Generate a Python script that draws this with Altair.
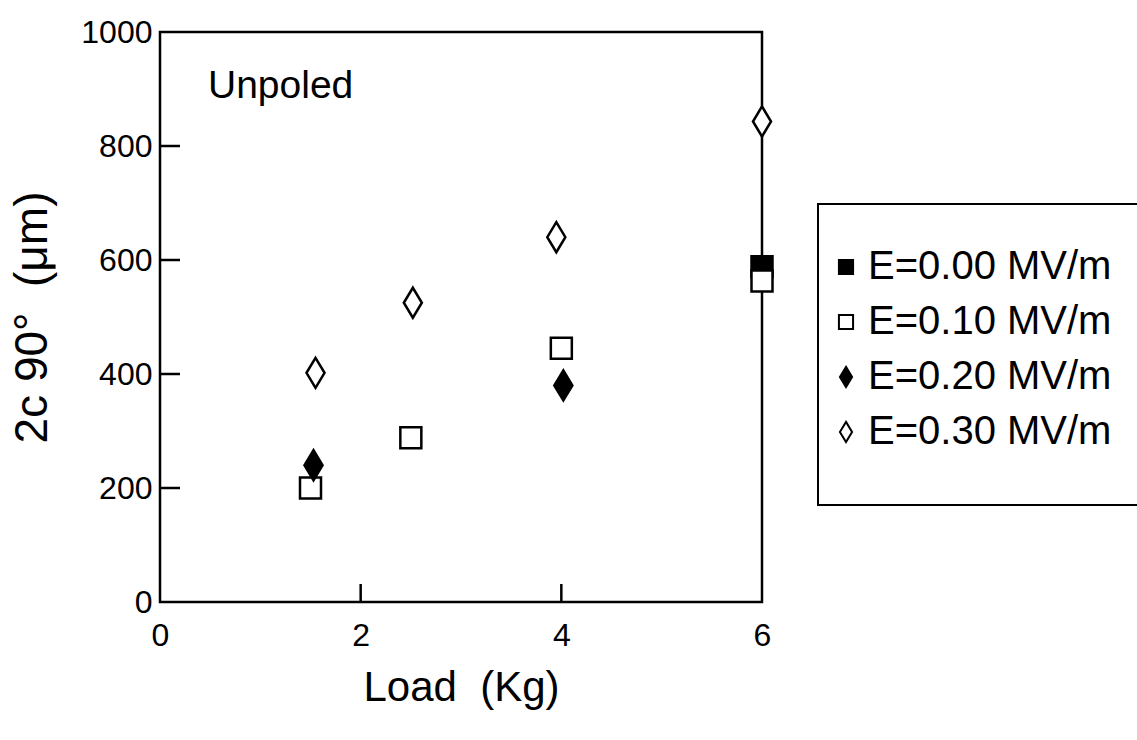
import altair as alt
import pandas as pd

# ---- data ----
series = ["E=0.00 MV/m", "E=0.10 MV/m", "E=0.20 MV/m", "E=0.30 MV/m"]

load_e000 = [6.0]
um_e000 = [588]

load_e010 = [1.5, 2.5, 4.0, 6.0]
um_e010 = [200, 288, 445, 563]

load_e020 = [1.53, 4.02]
um_e020 = [240, 380]

load_e030 = [1.55, 2.52, 3.95, 6.0]
um_e030 = [402, 525, 640, 843]

x_tick_values = [0, 2, 4, 6]
y_tick_values = [0, 200, 400, 600, 800, 1000]
x_inner_ticks = [2, 4]
y_inner_ticks = [200, 400, 600, 800]

FONT = "Liberation Sans"
SQUARE = "M-1,-1L1,-1L1,1L-1,1Z"
DIAMOND = "M0,-1.43L0.86,0L0,1.43L-0.86,0Z"
W, H = 602, 570

rows = []
for name, xs, ys in zip(series,
                        [load_e000, load_e010, load_e020, load_e030],
                        [um_e000, um_e010, um_e020, um_e030]):
    for xv, yv in zip(xs, ys):
        rows.append({"series": name, "load": xv, "um": yv})
df = pd.DataFrame(rows)

xscale = alt.Scale(domain=[0, 6], nice=False, zero=False)
yscale = alt.Scale(domain=[0, 1000], nice=False, zero=False)

legend_spec = dict(
    orient="none", legendX=666, legendY=215, title=None,
    labelFont=FONT, labelFontSize=40, labelColor="black",
    symbolSize=200, symbolStrokeWidth=2, symbolStrokeColor="black",
    rowPadding=15, labelOffset=2, padding=0, labelLimit=500,
)

points = alt.Chart(df).mark_point(
    filled=True, strokeWidth=2.5, opacity=1, size=441
).encode(
    x=alt.X("load:Q", scale=xscale, axis=alt.Axis(
        values=x_tick_values, title="Load\u00a0\u00a0(Kg)", ticks=False,
        domain=False, grid=False, labelFont=FONT, labelFontSize=32,
        labelColor="black", labelPadding=18, labelFlush=False,
        titleFont=FONT, titleFontSize=42,
        titleFontWeight="normal", titleColor="black", titlePadding=16,
        labelExpr="'' + datum.value")),
    y=alt.Y("um:Q", scale=yscale, axis=alt.Axis(
        values=y_tick_values, title="2c 90°\u00a0\u00a0(μm)", ticks=False,
        domain=False, grid=False, labelFont=FONT, labelFontSize=32,
        labelColor="black", labelPadding=8, labelFlush=False,
        titleFont=FONT, titleFontSize=46,
        titleFontWeight="normal", titleColor="black", titlePadding=24,
        labelExpr="'' + datum.value")),
    shape=alt.Shape("series:N", scale=alt.Scale(
        domain=series, range=[SQUARE, SQUARE, DIAMOND, DIAMOND]),
        legend=alt.Legend(**legend_spec)),
    fill=alt.Fill("series:N", scale=alt.Scale(
        domain=series, range=["black", "white", "black", "white"]),
        legend=alt.Legend(**legend_spec)),
    stroke=alt.Stroke("series:N", scale=alt.Scale(
        domain=series, range=["black", "black", "black", "black"]),
        legend=alt.Legend(**legend_spec)),
)

xt = alt.Chart(pd.DataFrame({"v": x_inner_ticks})).mark_rule(
    color="black", strokeWidth=2.5
).encode(
    x=alt.X("v:Q", scale=xscale),
    y=alt.value(H), y2=alt.value(H - 18),
)

yt = alt.Chart(pd.DataFrame({"v": y_inner_ticks})).mark_rule(
    color="black", strokeWidth=2.5
).encode(
    y=alt.Y("v:Q", scale=yscale),
    x=alt.value(0), x2=alt.value(20),
)

label = alt.Chart(pd.DataFrame({"t": ["Unpoled"]})).mark_text(
    align="left", baseline="middle", font=FONT, fontSize=39, color="black"
).encode(x=alt.value(48), y=alt.value(54), text="t:N")

box = alt.Chart(pd.DataFrame({"a": [0]})).mark_rect(
    fillOpacity=0, stroke="black", strokeWidth=2
).encode(x=alt.value(658), x2=alt.value(1000), y=alt.value(172), y2=alt.value(473))

chart = alt.layer(points, xt, yt, label, box).properties(
    width=W, height=H,
    autosize=alt.AutoSizeParams(type="none"),
    padding={"left": 160, "top": 32, "right": 1137 - 160 - W, "bottom": 740 - 32 - H},
    background="white",
).configure_view(
    stroke="black", strokeWidth=2.5
)

chart.save("out.html", embed_options={"renderer": "svg", "actions": False})
